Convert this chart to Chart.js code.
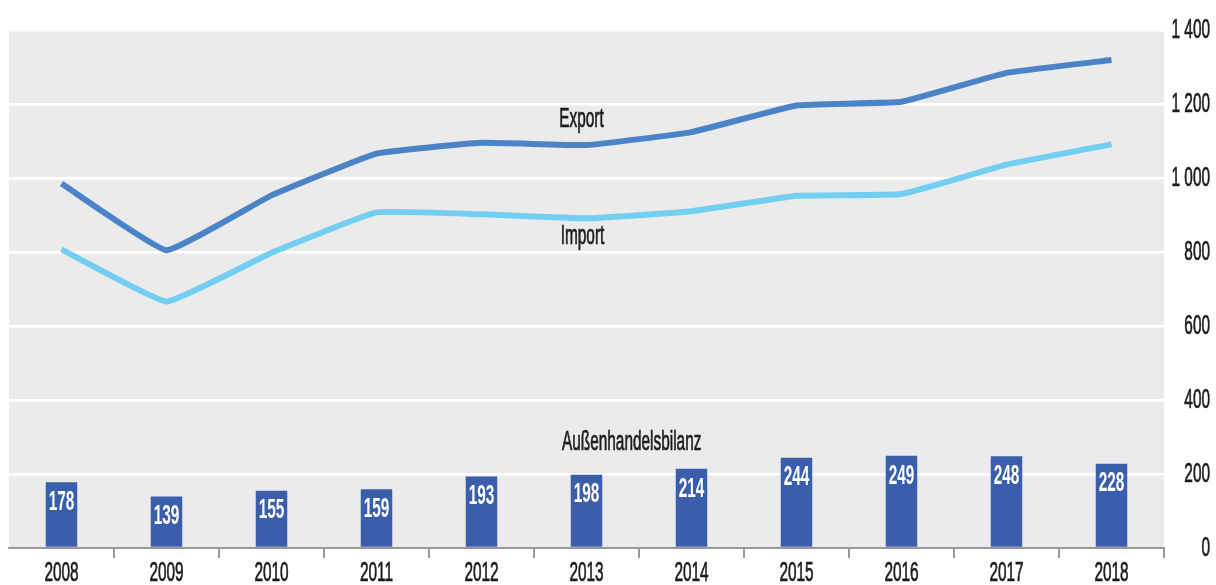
<!DOCTYPE html>
<html>
<head>
<meta charset="utf-8">
<script src="https://cdn.jsdelivr.net/npm/chart.js@4"></script>
<style>
  body { margin: 0; background: #fff; }
  #wrap { width: 1216px; height: 585px; }
</style>
</head>
<body>
<div id="wrap"><canvas id="trade" width="1216" height="585"></canvas></div>
<script>
// values (Mrd. Euro)
const years = ["2008", "2009", "2010", "2011", "2012", "2013", "2014", "2015", "2016", "2017", "2018"];
const exportValues = [985, 805, 953, 1066, 1095, 1089, 1124, 1196, 1206, 1284, 1319];
const importValues = [807, 666, 798, 907, 902, 891, 910, 952, 957, 1036, 1091];
const balanceValues = [178, 139, 155, 159, 193, 198, 214, 244, 249, 248, 228];
const yTickValues = [0, 200, 400, 600, 800, 1000, 1200, 1400];
const seriesNames = ["Export", "Import", "Außenhandelsbilanz"];

const textColor = "#1c1c1c";

// the source picture is stretched vertically, so text is drawn narrow and tall
function tallText(ctx, text, x, y, align, color, weight) {
    ctx.save();
    ctx.translate(x, y);
    ctx.scale(0.81, 1.47);
    ctx.font = (weight || "normal") + " 19px 'Liberation Sans', Arial, sans-serif";
    ctx.fillStyle = color;
    ctx.strokeStyle = color;
    ctx.lineWidth = 0.5;
    ctx.textAlign = align;
    ctx.textBaseline = "middle";
    ctx.fillText(text, 0, 0);
    if (!weight) ctx.strokeText(text, 0, 0);
    ctx.restore();
}

function fmt(v) {
    return v >= 1000 ? Math.floor(v / 1000) + " " + String(v % 1000).padStart(3, "0") : String(v);
}

const plotBackground = {
    id: "plotBackground",
    beforeDraw(chart) {
        const { ctx, chartArea } = chart;
        ctx.save();
        ctx.fillStyle = "#ebebeb";
        ctx.fillRect(chartArea.left, chartArea.top, chartArea.right - chartArea.left, chartArea.bottom - chartArea.top);
        ctx.restore();
    },
};

const textLabels = {
    id: "textLabels",
    afterDraw(chart) {
        const ctx = chart.ctx;
        const xs = chart.scales.x;
        const ys = chart.scales.y;

        // x axis labels
        years.forEach((y, i) => tallText(ctx, y, xs.getPixelForValue(i), 573, "center", textColor));

        // y axis labels, right aligned
        yTickValues.forEach((v) => tallText(ctx, fmt(v), 1210, ys.getPixelForValue(v), "right", textColor));

        // values inside bars
        chart.getDatasetMeta(0).data.forEach((bar, i) => {
            tallText(ctx, String(balanceValues[i]), bar.x, bar.y + 20, "center", "#ffffff", "bold");
        });

        // series names
        const step = xs.getPixelForValue(1) - xs.getPixelForValue(0);
        const x2013 = xs.getPixelForValue(5);
        tallText(ctx, seriesNames[0], x2013 - 5, ys.getPixelForValue(1159), "center", textColor);
        tallText(ctx, seriesNames[1], x2013 - 4, ys.getPixelForValue(843), "center", textColor);
        tallText(ctx, seriesNames[2], x2013 + step * 0.43, ys.getPixelForValue(286), "center", textColor);
    },
};

new Chart(document.getElementById("trade"), {
    type: "bar",
    data: {
        labels: years,
        datasets: [
            {
                type: "bar",
                label: seriesNames[2],
                data: balanceValues,
                backgroundColor: "#3a5eab",
                barPercentage: 0.3,
                categoryPercentage: 1,
                order: 3,
            },
            {
                type: "line",
                label: seriesNames[0],
                data: exportValues,
                borderColor: "#4a84c7",
                borderWidth: 6,
                borderCapStyle: "butt",
                pointRadius: 0,
                tension: 0.1,
                order: 1,
            },
            {
                type: "line",
                label: seriesNames[1],
                data: importValues,
                borderColor: "#72cff1",
                borderWidth: 6,
                borderCapStyle: "butt",
                pointRadius: 0,
                tension: 0.1,
                order: 2,
            },
        ],
    },
    options: {
        responsive: false,
        animation: false,
        layout: { padding: { top: 30, left: 9, right: 0, bottom: 0 } },
        plugins: {
            legend: { display: false },
            tooltip: { enabled: false },
        },
        scales: {
            x: {
                position: "bottom",
                offset: true,
                grid: {
                    offset: true,
                    drawOnChartArea: false,
                    drawTicks: true,
                    tickLength: 10,
                    lineWidth: 2,
                    color: (c) => (c.index === 0 || c.index === years.length ? "rgba(0,0,0,0)" : "#999999"),
                },
                border: { display: true, color: "#999999", width: 2 },
                ticks: { display: false },
                afterFit: (s) => { s.height = 37; },
            },
            y: {
                position: "right",
                min: 0,
                max: 1400,
                ticks: { display: false, stepSize: 200 },
                grid: {
                    drawTicks: false,
                    lineWidth: 2.5,
                    color: (c) => (c.tick && c.tick.value === 0 ? "rgba(0,0,0,0)" : "#ffffff"),
                },
                border: { display: false },
                afterFit: (s) => { s.width = 52; },
            },
        },
    },
    plugins: [plotBackground, textLabels],
});
</script>
</body>
</html>
